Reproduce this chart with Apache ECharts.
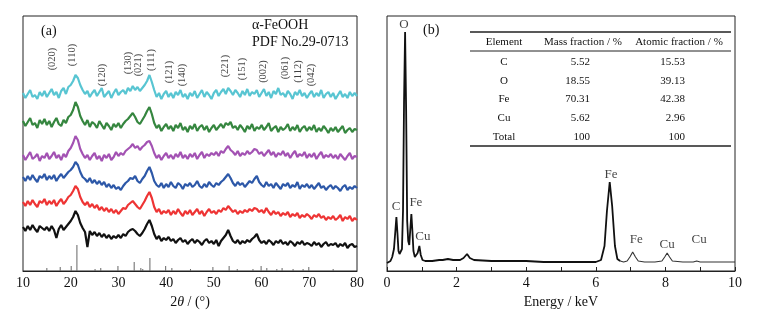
<!DOCTYPE html>
<html>
<head>
<meta charset="utf-8">
<script src="https://cdn.jsdelivr.net/npm/echarts@6/dist/echarts.min.js"></script>
<style>
  html, body { margin: 0; padding: 0; background: #fff; }
  #main { width: 757px; height: 321px; }
</style>
</head>
<body>
<div id="main"></div>
<script>
// ---- (a) XRD scans, intensity (a.u., offset as plotted), read every 0.5 deg from 10 to 80 ----
const angleStart = 10, angleStep = 0.5;

const xrdCyan = [
  178,173,177,181,174,176,172,179,175,180,
  174,178,182,176,179,173,180,183,177,184,
  186,190,196,193,186,181,177,180,174,178,
  181,175,179,183,174,177,180,173,178,182,
  176,179,181,177,183,180,185,181,184,180,
  183,186,190,196,189,181,174,178,172,177,
  180,174,178,173,179,176,181,174,177,172,
  178,175,180,173,177,181,174,179,176,172,
  178,181,175,179,182,177,183,180,176,181,
  178,174,180,176,182,175,179,177,181,174,
  178,182,175,179,173,180,177,183,176,178,
  174,180,177,172,179,176,181,175,178,173,
  177,180,174,178,175,181,173,177,179,174,
  178,172,176,180,174,177,173,179,175,178,175
];
const xrdGreen = [
  150,145,149,153,146,148,143,151,147,152,
  146,150,144,149,153,147,145,151,148,154,
  156,161,169,164,155,150,146,151,144,149,
  147,143,150,146,142,148,145,141,147,144,
  148,143,147,150,152,155,158,154,149,147,
  151,155,160,164,157,148,143,146,140,144,
  147,142,145,140,146,143,148,141,144,139,
  145,142,147,140,144,146,141,145,139,143,
  146,141,144,147,143,148,146,149,143,145,
  141,146,143,139,145,142,147,140,144,142,
  146,141,144,148,140,143,145,139,144,141,
  143,147,140,144,141,146,139,143,145,140,
  144,141,146,139,143,140,145,142,138,143,
  140,144,139,142,145,138,141,143,139,142,141
];
const xrdPurple = [
  116,111,115,119,112,114,117,110,115,113,
  118,112,115,119,113,116,111,117,114,120,
  123,128,135,131,122,117,113,116,111,115,
  118,112,115,110,116,113,117,111,114,119,
  115,118,116,120,122,124,127,123,125,121,
  124,126,129,130,125,118,113,116,111,115,
  118,113,116,112,117,114,119,113,116,112,
  117,114,118,112,116,119,113,117,115,118,
  116,119,115,120,118,122,125,121,119,116,
  120,115,118,116,120,117,119,122,121,117,
  119,115,118,121,116,119,114,118,116,120,
  115,118,113,117,120,114,117,115,119,113,
  117,114,118,112,116,119,113,116,114,117,
  113,116,112,117,114,111,115,118,112,115,114
];
const xrdBlue = [
  94,90,95,91,96,92,89,95,93,97,
  91,95,92,96,90,94,97,93,96,99,
  101,104,109,106,99,94,92,89,93,88,
  91,87,90,86,89,84,87,83,86,82,
  84,81,85,88,90,93,92,95,90,88,
  92,95,100,104,98,90,86,84,88,83,
  87,84,89,85,83,88,86,82,87,85,
  88,84,86,90,85,83,87,84,89,86,
  84,88,86,89,91,94,97,93,88,85,
  89,86,88,84,87,90,88,92,95,89,
  86,84,89,85,87,83,88,85,82,87,
  85,88,83,86,84,89,82,86,84,87,
  83,86,82,85,88,83,85,81,84,86,
  82,85,83,80,84,86,81,84,82,85,83
];
const xrdRed = [
  69,65,70,66,71,67,64,70,68,72,
  66,70,67,71,65,69,72,67,70,74,
  76,80,85,82,74,69,66,69,64,67,
  63,66,61,64,60,63,59,62,58,61,
  57,60,63,62,66,68,70,67,64,62,
  66,70,75,79,73,64,59,62,57,60,
  58,61,56,60,57,62,58,55,60,57,
  61,56,59,62,57,60,55,59,62,58,
  60,57,61,59,63,61,65,62,59,61,
  57,60,58,61,59,62,60,63,62,59,
  61,58,63,59,56,60,57,59,55,58,
  56,59,54,57,55,58,53,56,54,57,
  55,52,56,54,57,53,55,51,54,52,
  55,51,53,56,50,54,52,55,50,53,51
];
const xrdBlack = [
  44,40,45,41,46,42,39,45,43,41,
  44,40,45,41,33,42,46,41,44,47,
  50,54,60,56,48,43,39,24,40,36,
  39,35,38,34,37,33,36,32,35,33,
  36,33,37,35,39,41,42,40,37,35,
  38,42,47,51,45,37,32,35,30,33,
  31,34,30,32,28,31,33,29,31,27,
  30,32,28,31,29,26,30,32,28,30,
  27,31,25,30,33,36,41,35,30,28,
  31,27,30,28,31,29,32,34,37,31,
  28,30,27,31,29,26,30,28,31,27,
  29,26,30,28,25,29,27,30,26,28,
  27,25,29,26,28,24,27,29,25,27,
  26,28,24,27,25,28,23,26,27,24,25
];

// PDF No.29-0713 reference lines: position (2θ) and relative height
const pdfAngles = [15.0,17.8,20.1,21.3,25.1,26.3,29.9,33.3,34.7,35.1,36.6,39.9,41.2,45.1,49.8,53.2,54.9,58.2,59.9,61.1,63.2,64.3,66.6,68.7,69.9,75.0];
const pdfHeights = [3,4,5,26,2,3,5,9,3,2,13,5,3,2,4,5,2,2,5,3,2,3,2,2,4,2];

// (hkl) labels and where they sit above the patterns
const hklNames = ['(020)','(110)','(120)','(130)','(021)','(111)','(121)','(140)','(221)','(151)','(002)','(061)','(112)','(042)'];
const hklAngles = [16.2,20.4,26.6,32.0,34.1,36.8,40.6,43.3,52.3,55.9,60.3,64.9,67.6,70.4];
const hklLevels = [212,216,196,208,206,211,199,196,205,202,199.5,203,199.5,196];

// ---- (b) EDS spectrum: energy (keV) and counts (a.u.) ----
const edsEnergy = [0,0.05,0.1,0.15,0.2,0.24,0.27,0.3,0.33,0.36,0.38,0.4,0.43,0.46,0.49,0.52,0.55,0.58,0.61,0.64,0.67,0.7,0.73,0.76,0.8,0.84,0.88,0.93,0.97,1.02,1.1,1.3,1.5,1.6,1.75,1.9,2.1,2.2,2.3,2.38,2.5,3,3.5,4,4.5,5,5.5,6,6.15,6.25,6.32,6.4,6.47,6.55,6.62,6.7,6.8,6.9,6.98,7.06,7.14,7.22,7.4,7.7,7.9,7.98,8.05,8.12,8.2,8.5,8.8,8.9,9,9.5,10];
const edsCounts = [8,9,10,14,22,40,54,38,20,17,19,16,22,60,170,239,160,50,30,26,42,57,40,20,14,13,18,25,16,11,10,10,11,11,12,11,11,13,17,13,11,10,10,10,9,9,9,9,11,25,60,89,65,25,12,10,9,10,14,19,14,10,9,9,10,14,18,14,10,9,9,10,9,9,9];

const edsPeakNames = ['O','C','Fe','Cu','Fe','Fe','Cu','Cu'];
const edsPeakEnergy = [0.49,0.26,0.83,1.03,6.44,7.16,8.05,8.97];
const edsPeakLevel = [246,64,68,34,96,31,26,31];

// composition table
const tableHeader = ['Element','Mass fraction / %','Atomic fraction / %'];
const tableElements = ['C','O','Fe','Cu','Total'];
const tableMass = ['5.52','18.55','70.31','5.62','100'];
const tableAtomic = ['15.53','39.13','42.38','2.96','100'];

const serif = '"Liberation Serif", "DejaVu Serif", "Times New Roman", serif';
const chart = echarts.init(document.getElementById('main'));

const toPairs = arr => arr.map((v, i) => [angleStart + i * angleStep, v]);
const xrdSets = [
  {data: xrdCyan, color: '#58c5d2'},
  {data: xrdGreen, color: '#35863f'},
  {data: xrdPurple, color: '#a352b3'},
  {data: xrdBlue, color: '#2d58a8'},
  {data: xrdRed, color: '#ee3434'},
  {data: xrdBlack, color: '#111111'}
];

const edsPairs = edsEnergy.map((e, i) => [e, edsCounts[i]]);

// table drawn with graphic elements, laid out in the upper right of panel (b)
const colX = [504, 590, 685];
const rowY = [62, 81, 99, 118, 137];
const tableGraphics = [
  {type: 'line', shape: {x1: 470, y1: 32, x2: 731, y2: 32}, style: {stroke: '#222', lineWidth: 1.3}},
  {type: 'line', shape: {x1: 470, y1: 51, x2: 731, y2: 51}, style: {stroke: '#222', lineWidth: 1}},
  {type: 'line', shape: {x1: 470, y1: 146, x2: 731, y2: 146}, style: {stroke: '#222', lineWidth: 1.3}},
  {type: 'text', style: {text: tableHeader[0], x: 504, y: 42, textAlign: 'center', textVerticalAlign: 'middle', font: '11px ' + serif, fill: '#111'}},
  {type: 'text', style: {text: tableHeader[1], x: 583, y: 42, textAlign: 'center', textVerticalAlign: 'middle', font: '11px ' + serif, fill: '#111'}},
  {type: 'text', style: {text: tableHeader[2], x: 679, y: 42, textAlign: 'center', textVerticalAlign: 'middle', font: '11px ' + serif, fill: '#111'}}
];
tableElements.forEach((el, r) => {
  tableGraphics.push({type: 'text', style: {text: el, x: colX[0], y: rowY[r], textAlign: 'center', textVerticalAlign: 'middle', font: '11px ' + serif, fill: '#111'}});
  tableGraphics.push({type: 'text', style: {text: tableMass[r], x: colX[1], y: rowY[r], textAlign: 'right', textVerticalAlign: 'middle', font: '11px ' + serif, fill: '#111'}});
  tableGraphics.push({type: 'text', style: {text: tableAtomic[r], x: colX[2], y: rowY[r], textAlign: 'right', textVerticalAlign: 'middle', font: '11px ' + serif, fill: '#111'}});
});

const option = {
  animation: false,
  textStyle: {fontFamily: serif},
  grid: [
    {left: 23, top: 16, width: 334, height: 255, show: true, borderColor: '#222', borderWidth: 1},
    {left: 387, top: 16, width: 348, height: 255, show: true, borderColor: '#222', borderWidth: 1}
  ],
  xAxis: [
    {
      gridIndex: 0, type: 'value', min: 10, max: 80, interval: 10,
      axisLine: {lineStyle: {color: '#222'}},
      axisTick: {show: false},
      splitLine: {show: false},
      axisLabel: {color: '#111', fontSize: 14, margin: 5, fontFamily: serif, showMinLabel: true, showMaxLabel: true},
      name: '2{it|θ} / (°)', nameLocation: 'middle', nameGap: 19,
      nameTextStyle: {color: '#111', fontSize: 14, fontFamily: serif,
        rich: {it: {fontStyle: 'italic', fontSize: 14, fontFamily: serif, color: '#111'}}}
    },
    {
      gridIndex: 1, type: 'value', min: 0, max: 10, interval: 1,
      axisLine: {lineStyle: {color: '#222'}},
      axisTick: {show: true, inside: true, length: 4, lineStyle: {color: '#222'}},
      splitLine: {show: false},
      axisLabel: {color: '#111', fontSize: 14, margin: 5, fontFamily: serif, showMinLabel: true, showMaxLabel: true,
        formatter: v => (v % 2 === 0 ? String(v) : '')},
      name: 'Energy / keV', nameLocation: 'middle', nameGap: 19,
      nameTextStyle: {color: '#111', fontSize: 14, fontFamily: serif}
    }
  ],
  yAxis: [
    {gridIndex: 0, type: 'value', min: 0, max: 255, show: false},
    {gridIndex: 1, type: 'value', min: 0, max: 255, show: false}
  ],
  graphic: [
    {type: 'text', style: {text: '(a)', x: 41, y: 31, textVerticalAlign: 'middle', font: '14px ' + serif, fill: '#111'}},
    {type: 'text', style: {text: 'α-FeOOH', x: 252, y: 25, textVerticalAlign: 'middle', font: '14px ' + serif, fill: '#111'}},
    {type: 'text', style: {text: 'PDF No.29-0713', x: 252, y: 42, textVerticalAlign: 'middle', font: '14px ' + serif, fill: '#111'}},
    {type: 'text', style: {text: '(b)', x: 423, y: 30, textVerticalAlign: 'middle', font: '14px ' + serif, fill: '#111'}}
  ].concat(tableGraphics),
  series: [
    ...xrdSets.map(s => ({
      type: 'line', xAxisIndex: 0, yAxisIndex: 0, data: toPairs(s.data),
      symbol: 'none', silent: true,
      lineStyle: {color: s.color, width: 2.2}
    })),
    {
      type: 'custom', xAxisIndex: 0, yAxisIndex: 0, silent: true,
      data: pdfAngles.map((a, i) => [a, pdfHeights[i]]),
      renderItem: (params, api) => {
        const p0 = api.coord([api.value(0), 0]);
        const p1 = api.coord([api.value(0), api.value(1)]);
        return {type: 'line', shape: {x1: p0[0], y1: p0[1], x2: p1[0], y2: p1[1]}, style: {stroke: '#666', lineWidth: 1}};
      }
    },
    {
      type: 'scatter', xAxisIndex: 0, yAxisIndex: 0, silent: true, symbolSize: 1,
      itemStyle: {color: 'rgba(0,0,0,0)'},
      data: hklNames.map((n, i) => ({name: n, value: [hklAngles[i], hklLevels[i]]})),
      label: {show: true, formatter: '{b}', rotate: 90, position: 'inside', fontSize: 10.5, color: '#111', fontFamily: serif}
    },
    {
      type: 'line', xAxisIndex: 1, yAxisIndex: 1, silent: true, symbol: 'none',
      data: edsPairs.filter(p => p[0] <= 6.7),
      lineStyle: {color: '#111', width: 1.8}
    },
    {
      type: 'line', xAxisIndex: 1, yAxisIndex: 1, silent: true, symbol: 'none',
      data: edsPairs.filter(p => p[0] >= 6.7),
      lineStyle: {color: '#333', width: 1.1}
    },
    {
      type: 'scatter', xAxisIndex: 1, yAxisIndex: 1, silent: true, symbolSize: 1,
      itemStyle: {color: 'rgba(0,0,0,0)'},
      data: edsPeakNames.map((n, i) => ({name: n, value: [edsPeakEnergy[i], edsPeakLevel[i]]})),
      label: {show: true, formatter: '{b}', position: 'inside', fontSize: 13, color: '#111', fontFamily: serif}
    }
  ]
};

chart.setOption(option);
</script>
</body>
</html>
